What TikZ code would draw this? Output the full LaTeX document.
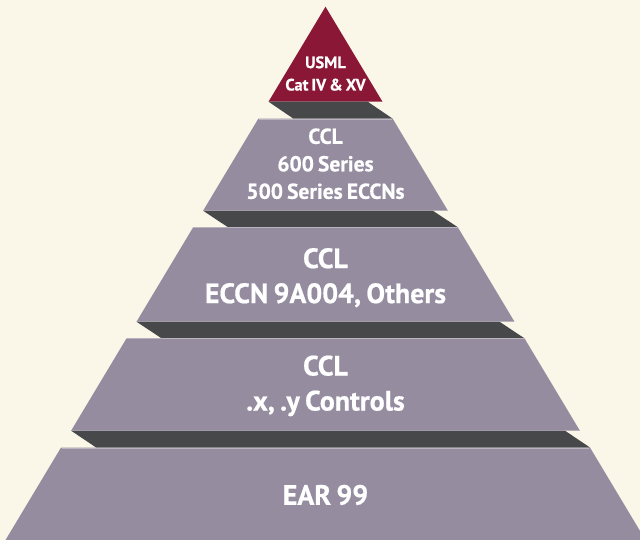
\documentclass[tikz,border=0pt]{standalone}
\usepackage{fontspec}
\setmainfont{PT Sans}[WordSpace=0.75, BoldFeatures={FakeBold=0.6}]
\definecolor{PyrCream}{HTML}{FAF7E8}
\definecolor{PyrGrey}{HTML}{958CA0}
\definecolor{PyrShadow}{HTML}{47484A}
\definecolor{PyrMaroon}{HTML}{8B1737}
\tikzset{
    % Tier slab
    tier/.style={
        fill=PyrGrey
    },
    % Dark ledge under each slab
    shelf/.style={
        fill=PyrShadow
    },
    % Top of the pyramid
    apex/.style={
        fill=PyrMaroon
    },
    % Light rim along the top edge of a slab
    rim/.style={
        draw=PyrGrey!65!white,
        line width=0.8pt
    },
    % Tier label
    tierlabel/.style={
        text=white,
        align=center,
        inner sep=0pt,
        text depth=0pt,
        anchor=south,
        font=\bfseries\fontsize{28}{35}\selectfont
    }
}

\begin{document}
\begin{tikzpicture}[x=1pt, y=-1pt]
        \useasboundingbox (0,0) rectangle (640,540);
        \clip (0,0) rectangle (640,540);
        \fill[PyrCream] (0,0) rectangle (640,540);
        \def\cx{325.5}

        % Apex
        \fill[apex] (\cx,6.7) -- ({\cx-57},101.7) -- ({\cx+57},101.7) -- cycle;

        % Ledges
        \foreach \yt/\yb in {101.7/118.7, 210.7/227.3, 321.7/338.3, 430.7/447.5}
            \fill[shelf] ({\cx-0.6*(\yt-6.7)},\yt) -- ({\cx+0.6*(\yb-6.7)-25},\yt)
                -- ({\cx+0.6*(\yb-6.7)},\yb) -- ({\cx-0.6*(\yt-6.7)+25},\yb) -- cycle;

        % Slabs
        \foreach \yt/\yb in {118.7/210.7, 227.3/321.7, 338.3/430.7, 447.5/548} {
            \fill[tier] ({\cx-0.6*(\yt-6.7)},\yt) -- ({\cx+0.6*(\yt-6.7)},\yt)
                -- ({\cx+0.6*(\yb-6.7)},\yb) -- ({\cx-0.6*(\yb-6.7)},\yb) -- cycle;
            \draw[rim] ({\cx-0.6*(\yt-6.7)+0.5},\yt+0.4) -- ({\cx+0.6*(\yt-6.7)-0.5},\yt+0.4);
        }

        % Labels
        \node (usml) [tierlabel, font=\bfseries\fontsize{16.5}{22.4}\selectfont] at (\cx,90.7) {USML\\Cat IV \& XV};
        \node (series) [tierlabel, font=\bfseries\fontsize{21.5}{27.5}\selectfont] at (\cx,199) {CCL\\600 Series\\500 Series ECCNs};
        \node (eccn) [tierlabel] at (\cx,303.3) {CCL\\ECCN 9A004, Others};
        \node (controls) [tierlabel] at (\cx,410.7) {CCL\\.x, .y Controls};
        \node (ear) [tierlabel] at (\cx,505) {EAR 99};
    \end{tikzpicture}
\end{document}
